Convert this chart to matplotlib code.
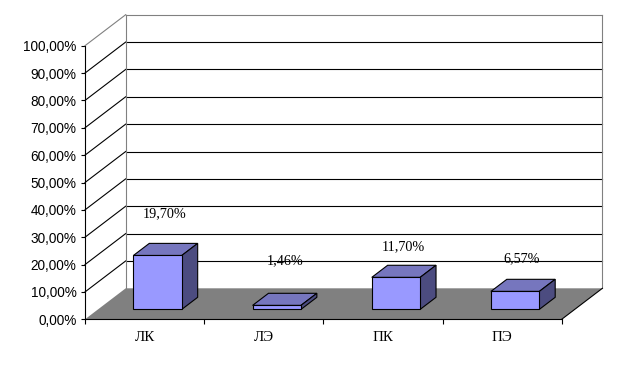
import matplotlib
matplotlib.use("Agg")
import matplotlib.pyplot as plt
from matplotlib.patches import Polygon
from matplotlib.ticker import FixedLocator, FuncFormatter

# ---- data ----
categories = ["ЛК", "ЛЭ", "ПК", "ПЭ"]
values = [0.197, 0.0146, 0.117, 0.0657]
value_labels = ["19,70%", "1,46%", "11,70%", "6,57%"]
y_ticks = [i / 10 for i in range(11)]

# ---- layout (pixels) ----
W, H = 621, 368
X_LEFT, X_RIGHT = 85, 561.7
Y_BOT, Y_TOP = 319.3, 45.7
DEPTH_PX = (40.7, 31.0)          # oblique depth offset (right, up)
label_offsets_px = [(-1, 36), (0, 38.5), (-1, 25), (-1, 27)]

fig = plt.figure(figsize=(W / 100, H / 100), dpi=100)
ax = fig.add_axes([X_LEFT / W, (H - Y_BOT) / H, (X_RIGHT - X_LEFT) / W, (Y_BOT - Y_TOP) / H])
n = len(categories)
ax.set_xlim(0, n)
ax.set_ylim(0, 1)
ax.patch.set_visible(False)

px_per_x = (X_RIGHT - X_LEFT) / n
px_per_y = (Y_BOT - Y_TOP)
ddx = DEPTH_PX[0] / px_per_x
ddy = DEPTH_PX[1] / px_per_y


def P(x, v, d):
    return (x + d * ddx, v + d * ddy)


GRAY = "#808080"
LW = 0.8

# back wall
wall = Polygon([P(0, 0, 1), P(n, 0, 1), P(n, 1, 1), P(0, 1, 1)], closed=True,
               facecolor="white", edgecolor="none", clip_on=False, zorder=1)
ax.add_patch(wall)
for t in y_ticks[1:-1]:
    xs, ys = zip(P(0, t, 1), P(n, t, 1))
    ax.plot(xs, ys, color="black", lw=LW, clip_on=False, zorder=2)
    xs, ys = zip(P(0, t, 0), P(0, t, 1))
    ax.plot(xs, ys, color="black", lw=LW, clip_on=False, zorder=2)
# wall borders (gray)
for a, b in [(P(0, 1, 0), P(0, 1, 1)), (P(0, 1, 1), P(n, 1, 1)),
             (P(n, 1, 1), P(n, 0, 1)), (P(0, 0, 1), P(0, 1, 1))]:
    xs, ys = zip(a, b)
    ax.plot(xs, ys, color=GRAY, lw=LW, clip_on=False, zorder=2)

# floor
floor = Polygon([P(0, 0, 0), P(n, 0, 0), P(n, 0, 1), P(0, 0, 1)], closed=True,
                facecolor=GRAY, edgecolor="none", clip_on=False, zorder=3)
ax.add_patch(floor)
xs, ys = zip(P(n, 0, 0), P(n, 0, 1))
ax.plot(xs, ys, color="black", lw=LW, clip_on=False, zorder=3)

# bars
BW = 0.406
D0, D1 = 0.32, 0.71
FRONT, TOP, SIDE = "#9999FF", "#7676BE", "#4C4C80"
for i, v in enumerate(values):
    x0 = i + 0.5 - BW / 2
    x1 = i + 0.5 + BW / 2
    top = [P(x0, v, D0), P(x1, v, D0), P(x1, v, D1), P(x0, v, D1)]
    side = [P(x1, 0, D0), P(x1, 0, D1), P(x1, v, D1), P(x1, v, D0)]
    front = [P(x0, 0, D0), P(x1, 0, D0), P(x1, v, D0), P(x0, v, D0)]
    for pts, c in [(top, TOP), (side, SIDE), (front, FRONT)]:
        ax.add_patch(Polygon(pts, closed=True, facecolor=c, edgecolor="black",
                             lw=LW, clip_on=False, zorder=4, joinstyle="miter"))
    cx, cy = P(i + 0.5, v, (D0 + D1) / 2)
    ox, oy = label_offsets_px[i]
    ax.annotate(value_labels[i], (cx, cy), xytext=(ox * 0.72, oy * 0.72),
                textcoords="offset points", ha="center", va="center",
                fontsize=10.2, family="Liberation Serif", zorder=6,
                annotation_clip=False)

# axes
for s in ["top", "right"]:
    ax.spines[s].set_visible(False)
for s in ["left", "bottom"]:
    ax.spines[s].set_linewidth(LW)
    ax.spines[s].set_zorder(5)

ax.yaxis.set_major_locator(FixedLocator(y_ticks))
ax.yaxis.set_major_formatter(FuncFormatter(lambda v, p: f"{v * 100:.2f}%".replace(".", ",")))
ax.tick_params(axis="y", direction="out", length=3, width=LW, pad=3,
               labelsize=9.8)
for lab in ax.get_yticklabels():
    lab.set_family("Liberation Sans")

ax.xaxis.set_major_locator(FixedLocator(list(range(n + 1))))
ax.xaxis.set_major_formatter(FuncFormatter(lambda v, p: ""))
ax.xaxis.set_minor_locator(FixedLocator([i + 0.5 for i in range(n)]))
ax.set_xticklabels(categories, minor=True)
ax.tick_params(axis="x", which="major", direction="out", length=3.5, width=LW)
ax.tick_params(axis="x", which="minor", length=0, pad=8.5, labelsize=10.8)
for lab in ax.get_xticklabels(minor=True):
    lab.set_family("Liberation Serif")

fig.savefig("out.png", dpi=100)
